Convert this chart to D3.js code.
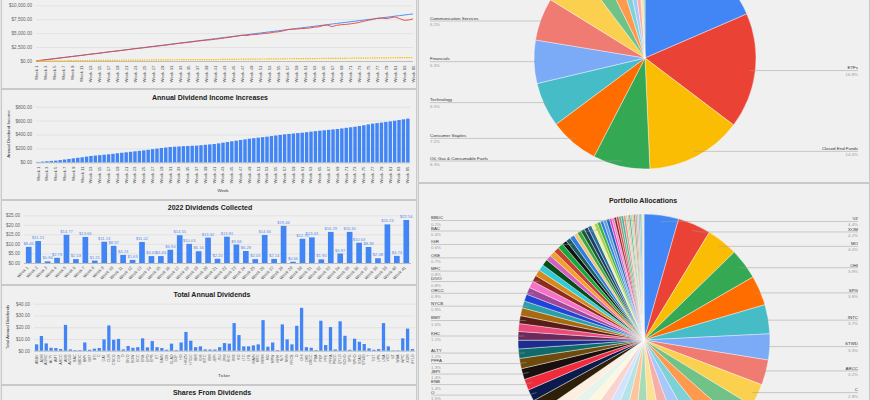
<!DOCTYPE html>
<html lang="en">
<head>
	<meta charset="UTF-8"/>
	<title>Dividend Dashboard</title>
	<script src="https://d3js.org/d3.v7.min.js"></script>
	<style>
		body { margin:0; background:#e4e4e4; }
		svg { display:block; font-family:"Liberation Sans", Arial, sans-serif; }
	</style>
</head>
<body>
<script>
	var w = 870;
	var h = 400;

	//-------------- data ---------------------------
	var weeks = d3.range(1, 86).map(function(i){ return "Week " + i; });

	var invested = [0,100,200,300,400,505,605,705,805,905,
		1005,1105,1210,1310,1410,1510,1610,1710,1810,1910,
		2010,2115,2215,2315,2415,2515,2615,2715,2815,2920,
		3020,3120,3220,3320,3420,3520,3620,3720,3825,3925,
		4025,4125,4225,4325,4425,4525,4630,4730,4830,4930,
		5030,5130,5230,5330,5430,5535,5635,5735,5835,5935,
		6035,6135,6235,6340,6440,6540,6640,6740,6840,6940,
		7040,7140,7245,7345,7445,7545,7645,7745,7845,7945,
		8050,8150,8250,8350,8450];

	var portValue = [0,110,215,320,410,520,610,700,810,900,
		990,1100,1210,1290,1380,1500,1600,1710,1790,1890,
		2000,2090,2200,2290,2370,2490,2580,2670,2770,2850,
		2970,3070,3180,3260,3350,3460,3570,3650,3740,3810,
		3910,4010,4130,4240,4370,4490,4620,4570,4710,4770,
		4860,4950,5020,5170,5250,5390,5610,5700,5730,5810,
		5850,5930,6070,6130,6360,6430,6160,6410,6510,6570,
		6660,6770,6930,7120,7310,7450,7660,7710,7610,7760,
		7910,7610,7310,7360,7560];

	var annualIncome = [5,10,15,20,24,32,40,48,57,65,
		72,82,91,97,103,109,115,122,130,137,
		144,151,158,165,172,180,189,197,206,213,
		220,224,228,232,235,238,240,246,252,258,
		263,272,282,292,302,311,321,330,340,347,
		355,362,369,377,386,394,402,408,414,420,
		426,433,441,448,455,461,467,473,479,487,
		496,504,512,522,533,545,556,564,572,581,
		589,598,608,618,628];

	var collectedWeeks = d3.range(1, 42).map(function(i){ return "Week " + i; });
	var collected = [8.45,11.51,0.84,2.73,14.77,2.03,13.66,1.25,11.13,8.97,
		4.23,1.63,11.02,3.63,3.63,6.94,14.55,10.03,6.16,13.32,
		2.20,13.81,9.68,6.28,2.03,14.66,2.14,19.46,0.66,12.70,
		13.43,1.90,16.29,4.97,16.30,10.63,8.38,2.48,20.23,3.73,22.54];

	var tickers = ["ABBV","ADM","AGNC","ALTY","AMT","ARCC","ARR","AVGO","BAC","BBDC",
		"BMY","BST","BTI","C","CAT","CLM","CSCO","CVX","D","DIVO",
		"DOW","ECC","ENB","EPD","EPR","ET","GAIN","GIS","GLAD","GOF",
		"HD","HRZN","HTGC","IBM","IGR","INTC","IRM","JEPI","JNJ","JPM",
		"KHC","KMI","KO","LTC","LYB","MAIN","MFC","MMM","MO","MPW",
		"MRK","NLY","NNN","NYCB","O","OHI","OKE","ORCC","PBA","PEP",
		"PFE","PFFA","PSEC","QYLD","SCHD","SPG","SPHD","STAG","STWD","T",
		"TGT","UPS","USA","VICI","VZ","WBA","WPC","XOM","XYLD"];
	var tickerDividends = [5.4,12.5,6.2,2.5,2.3,1.4,22,1.1,0.5,0.5,
		7,0.8,1.7,2.3,9.6,21.5,9.3,10,1.1,4,
		2.5,3,10.5,2.8,8.2,3,2.3,0.8,6,0.5,
		7,16,8.5,3,3.7,1.1,1,1,3,6.5,
		6,23.5,13.3,3.7,3.7,4.5,5.4,26,3.4,7,
		0.5,22.4,9.6,5.4,21.2,36.5,3,2.5,0.5,25.5,
		4.8,20.1,1.1,25,12.7,0.8,10.2,7.6,5.7,2,
		0.8,1.4,23.5,3.7,0.3,0.3,10.5,18.8,1.4];

	var sectors = ["REITs","ETFs","Closed End Funds","Oil, Gas & Consumable Fuels","Consumer Staples",
		"Technology","Financials","Communication Services","BDCs","Utilities","Health Care",
		"Industrials","Materials","Consumer Discretionary","Telecommunications","Other"];
	var sectorPct = [18.5,16.8,14.0,8.3,7.2,6.5,6.3,6.2,5.9,3.0,2.5,1.5,1.2,1.0,0.6,0.5];
	var sectorLabelled = ["ETFs","Closed End Funds","Oil, Gas & Consumable Fuels","Consumer Staples",
		"Technology","Financials","Communication Services"];

	var allocTickers = ["VZ","XOM","MO","OHI","SPG","INTC","STWD","ARCC","C","QYLD",
		"T","ABBV","PFE","KO","MAIN","JNJ","PEP","WPC","MMM","CVX",
		"IBM","AGNC","PSEC","NNN","O","ENB","JEPI","PFFA","ALTY","EPD",
		"KHC","GOF","BMY","MPW","NYCB","LTC","ORCC","DOW","DIVO","BTI",
		"MFC","KMI","GAIN","OKE","CSCO","UPS","IRM","IGR","LYB","HD",
		"TGT","GIS","ADM","CAT","D","AMT","BAC","SCHD","VICI","STAG",
		"WBA","USA","CLM","BST","GLAD","ECC","HTGC","PBA","EPR","ET",
		"NLY","ARR","HRZN","BBDC","MRK","JPM","AVGO","SPHD","XYLD","RYLD"];
	var allocPct = [4.4,4.2,4.0,3.9,3.8,3.7,3.3,3.2,2.9,2.8,
		2.7,2.6,2.5,2.4,2.4,2.3,2.2,2.1,2.0,2.0,
		1.9,1.8,1.7,1.6,1.5,1.4,1.4,1.3,1.2,1.1,
		1.1,1.0,1.0,1.0,0.9,0.9,0.9,0.9,0.8,0.8,
		0.8,0.8,0.7,0.7,0.7,0.7,0.6,0.6,0.6,0.5,
		0.5,0.5,0.5,0.5,0.4,0.4,0.4,0.4,0.4,0.4,
		0.3,0.3,0.3,0.3,0.3,0.3,0.3,0.2,0.2,0.2,
		0.2,0.2,0.2,0.2,0.2,0.2,0.2,0.1,0.1,0.1];
	var allocLabelled = ["VZ","XOM","MO","OHI","SPG","INTC","STWD","ARCC","C","QYLD",
		"NNN","O","ENB","JEPI","PFFA","ALTY","KHC","BMY","NYCB","ORCC",
		"DIVO","MFC","OKE","IGR","BAC","BBDC"];

	//-------------- colours ---------------------------
	var sheetColors = ["#4285f4","#ea4335","#fbbc04","#34a853","#ff6d01","#46bdc6","#7baaf7","#f07b72",
		"#fcd04f","#71c287","#ff994d","#7ed1d7","#a8c7fa","#f6aea9","#fde293","#a8dab5"];
	var allocColors = sheetColors.slice(0, 9).concat([
		"#71c287","#ff994d","#7ed1d7","#a8c7fa","#f6aea9","#fde293","#a8dab5","#ffc49a","#b4e4e8",
		"#d2e3fc","#fad2cf","#fef7e0","#e6f4ea","#fdeee0",
		"#2e2008","#0b1b4d","#f02c3c","#1a0f0f","#6e4b0c","#0f6a6a","#1b2e8f","#6a2a5c","#ea4a7c",
		"#5a1c16","#a86a10","#2a9fa6","#1f45d8","#a0479a","#f472c8","#8f2a1e","#d58a1c","#2ecbdc",
		"#0a4a18","#d35fc3","#f6a02c","#c4432f","#16a83a",
		"#141414","#1c5f60","#2f7fe0","#f5c27a","#3aa83a","#145a32","#1a3a6a","#2a6fa0","#f3f0a0",
		"#a0d050","#40b040","#3080e0","#60a0e0","#2060c0","#e040c0","#f080d0","#902020","#e04040",
		"#80a080","#40b0a0","#f09080","#a0e0a0","#f0a0a0","#30b050","#8fd0e0","#e0c060","#d06090",
		"#70c070","#f0b090","#90b0f0","#60c0a0","#e08080","#b0e0b0","#f0d0a0"]);

	var blue = "#4285f4";
	var money = d3.format("$,.2f");

	var svg = d3.select("body")
				.append("svg")
				.attr("width", w)
				.attr("height", h);

	//-------------- panels ---------------------------
	var panels = [[1,-2,415,90],[1,89,415,110],[1,200,415,84],[1,285,415,99],[1,385,415,20],
		[418,-2,451,184],[418,183,451,220]];
	svg.selectAll("rect.panel")
		.data(panels)
		.enter()
		.append("rect")
		.attr("class","panel")
		.attr("x", function(d){ return d[0] + 0.5; })
		.attr("y", function(d){ return d[1] + 0.5; })
		.attr("width", function(d){ return d[2]; })
		.attr("height", function(d){ return d[3]; })
		.attr("fill","#f0f0f0")
		.attr("stroke","#c9c9c9")
		.attr("stroke-width",1);

	function title(txt, x, y) {
		svg.append("text")
			.attr("x", x).attr("y", y)
			.attr("text-anchor","middle")
			.attr("font-size", 7)
			.attr("font-weight","bold")
			.attr("fill","#222")
			.text(txt);
	}

	// grid + y labels through d3.axisLeft
	function yAxis(scale, ticks, x0, x1) {
		var g = svg.append("g")
			.attr("transform","translate(" + x0 + ",0)")
			.call(d3.axisLeft(scale).tickValues(ticks).tickSize(-(x1 - x0)).tickPadding(4).tickFormat(money));
		g.select(".domain").remove();
		g.attr("font-family", null).attr("font-size", 4.6);
		g.selectAll("line")
			.attr("stroke", function(d){ return d === 0 ? "#9a9a9a" : "#dadada"; })
			.attr("stroke-width", 0.6);
		g.selectAll("text").attr("fill","#666");
		return g;
	}

	// rotated category labels through d3.axisBottom
	function xAxis(scale, values, y, angle, size) {
		var g = svg.append("g")
			.attr("transform","translate(0," + y + ")")
			.call(d3.axisBottom(scale).tickValues(values).tickSize(0).tickPadding(0));
		g.select(".domain").remove();
		g.attr("font-family", null).attr("font-size", size);
		g.selectAll("text")
			.attr("fill","#555")
			.attr("text-anchor","end")
			.attr("x", -1.5)
			.attr("y", 0)
			.attr("dy","0.32em")
			.attr("transform","rotate(" + angle + ")");
		return g;
	}

	function axisTitle(txt, x, y, rotate) {
		svg.append("text")
			.attr("transform","translate(" + x + "," + y + ")" + (rotate ? " rotate(-90)" : ""))
			.attr("text-anchor","middle")
			.attr("font-size", 4.4)
			.attr("fill","#333")
			.text(txt);
	}

	var oddWeeks = weeks.filter(function(d, i){ return i % 2 === 0; });

	//-------------- chart 1: value lines ---------------------------
	var x1 = d3.scalePoint().domain(weeks).range([36, 413]);
	var y1 = d3.scaleLinear().domain([0, 10000]).range([61, 5.3]);
	yAxis(y1, [0, 2500, 5000, 7500, 10000], 36, 413);
	xAxis(x1, oddWeeks, 64, -90, 4.3);

	var lineGen = d3.line()
		.x(function(d, i){ return x1(weeks[i]); })
		.y(function(d){ return y1(d); });

	svg.append("path").datum(invested)
		.attr("d", lineGen).attr("fill","none")
		.attr("stroke", blue).attr("stroke-width", 0.9);
	svg.append("path").datum(portValue)
		.attr("d", lineGen).attr("fill","none")
		.attr("stroke", "#ea4335").attr("stroke-width", 0.9);
	svg.append("path").datum(annualIncome)
		.attr("d", lineGen).attr("fill","none")
		.attr("stroke", "#fbbc04").attr("stroke-width", 1.2)
		.attr("stroke-dasharray","1.4,0.9");

	//-------------- chart 2: annual income bars ---------------------------
	title("Annual Dividend Income Increases", 210, 99.5);
	var x2 = d3.scaleBand().domain(weeks).range([36, 410]).paddingInner(0.22).paddingOuter(0.1);
	var y2 = d3.scaleLinear().domain([0, 800]).range([162.3, 106.7]);
	yAxis(y2, [0, 200, 400, 600, 800], 36, 410);

	svg.selectAll("rect.inc")
		.data(annualIncome)
		.enter()
		.append("rect")
		.attr("class","inc")
		.attr("x", function(d, i){ return x2(weeks[i]); })
		.attr("y", function(d){ return y2(d); })
		.attr("width", x2.bandwidth())
		.attr("height", function(d){ return y2(0) - y2(d); })
		.attr("fill", blue);

	xAxis(x2, oddWeeks, 165, -90, 4.3);
	axisTitle("Annual Dividend Income", 9.5, 134, true);
	axisTitle("Week", 223, 192, false);

	//-------------- chart 3: 2022 dividends collected ---------------------------
	title("2022 Dividends Collected", 210, 210);
	var x3 = d3.scaleBand().domain(collectedWeeks).range([24, 411]).paddingInner(0.4).paddingOuter(0.2);
	var y3 = d3.scaleLinear().domain([0, 25]).range([263, 215.3]);
	yAxis(y3, [0, 5, 10, 15, 20, 25], 24, 411);

	svg.selectAll("rect.col")
		.data(collected)
		.enter()
		.append("rect")
		.attr("class","col")
		.attr("x", function(d, i){ return x3(collectedWeeks[i]); })
		.attr("y", function(d){ return y3(d); })
		.attr("width", x3.bandwidth())
		.attr("height", function(d){ return y3(0) - y3(d); })
		.attr("fill", blue);

	svg.selectAll("text.val")
		.data(collected)
		.enter()
		.append("text")
		.attr("class","val")
		.attr("x", function(d, i){ return x3(collectedWeeks[i]) + x3.bandwidth() / 2; })
		.attr("y", function(d){ return y3(d) - 2; })
		.attr("text-anchor","middle")
		.attr("font-size", 4.1)
		.attr("fill","#5b8def")
		.text(function(d){ return money(d); });

	xAxis(x3, collectedWeeks, 266, -45, 4.2);

	//-------------- chart 4: total annual dividends ---------------------------
	title("Total Annual Dividends", 212, 297);
	var x4 = d3.scaleBand().domain(tickers).range([34, 415]).paddingInner(0.32).paddingOuter(0.2);
	var y4 = d3.scaleLinear().domain([0, 40]).range([350.7, 303.7]);
	yAxis(y4, [0, 10, 20, 30, 40], 34, 415);

	svg.selectAll("rect.tick")
		.data(tickerDividends)
		.enter()
		.append("rect")
		.attr("class","tick")
		.attr("x", function(d, i){ return x4(tickers[i]); })
		.attr("y", function(d){ return y4(d); })
		.attr("width", x4.bandwidth())
		.attr("height", function(d){ return y4(0) - y4(d); })
		.attr("fill", blue);

	xAxis(x4, tickers, 353, -90, 3.6);
	axisTitle("Total Annual Dividends", 9, 327, true);
	axisTitle("Ticker", 224, 377, false);

	//-------------- chart 5: title only in view ---------------------------
	title("Shares From Dividends", 212, 395);

	//-------------- pies ---------------------------
	function drawPie(values, names, colors, labelled, cx, cy, r, leftX, rightX) {
		var total = d3.sum(values);
		var arcs = d3.pie().sort(null).value(function(d){ return d; })(values);
		var arc = d3.arc().innerRadius(0).outerRadius(r);
		var g = svg.append("g");

		g.selectAll("path")
			.data(arcs)
			.enter()
			.append("path")
			.attr("transform","translate(" + cx + "," + cy + ")")
			.attr("d", arc)
			.attr("fill", function(d, i){ return colors[i % colors.length]; })
			.attr("stroke","#ffffff")
			.attr("stroke-width", 0.4);

		// labels: anchor inside the slice, text at the side columns
		var items = [];
		arcs.forEach(function(a, i){
			if (labelled.indexOf(names[i]) < 0) return;
			var mid = (a.startAngle + a.endAngle) / 2;
			items.push({
				name: names[i],
				pct: a.value / total * 100,
				ax: cx + 0.95 * r * Math.sin(mid),
				ay: cy - 0.95 * r * Math.cos(mid),
				right: Math.sin(mid) > 0
			});
		});
		[true, false].forEach(function(side){
			var list = items.filter(function(d){ return d.right === side; })
				.sort(function(a, b){ return a.ay - b.ay; });
			var prev = -1000;
			list.forEach(function(d){ d.ly = Math.max(d.ay, prev + 10.5); prev = d.ly; });
		});

		g.selectAll("polyline")
			.data(items)
			.enter()
			.append("polyline")
			.attr("points", function(d){
				var ex = d.right ? rightX : leftX;
				var bx = d.right ? d.ax + 8 : d.ax - 8;
				if (Math.abs(d.ly - d.ay) < 0.5) return [ex, d.ly, d.ax, d.ay].join(",");
				return [ex, d.ly, bx, d.ly, d.ax, d.ay].join(",");
			})
			.attr("fill","none")
			.attr("stroke","#9e9e9e")
			.attr("stroke-width", 0.5);

		g.selectAll("text.name")
			.data(items)
			.enter()
			.append("text")
			.attr("class","name")
			.attr("x", function(d){ return d.right ? rightX : leftX; })
			.attr("y", function(d){ return d.ly - 1.2; })
			.attr("text-anchor", function(d){ return d.right ? "end" : "start"; })
			.attr("font-size", 4.4)
			.attr("fill","#333")
			.text(function(d){ return d.name; });

		g.selectAll("text.pct")
			.data(items)
			.enter()
			.append("text")
			.attr("class","pct")
			.attr("x", function(d){ return d.right ? rightX : leftX; })
			.attr("y", function(d){ return d.ly + 5; })
			.attr("text-anchor", function(d){ return d.right ? "end" : "start"; })
			.attr("font-size", 4.4)
			.attr("fill","#9a9a9a")
			.text(function(d){ return d.pct.toFixed(1) + "%"; });
	}

	drawPie(sectorPct, sectors, sheetColors, sectorLabelled, 645, 58, 111, 430, 858);

	title("Portfolio Allocations", 643, 203);
	drawPie(allocPct, allocTickers, allocColors, allocLabelled, 644, 340, 126, 431, 858);
</script>
</body>
</html>
